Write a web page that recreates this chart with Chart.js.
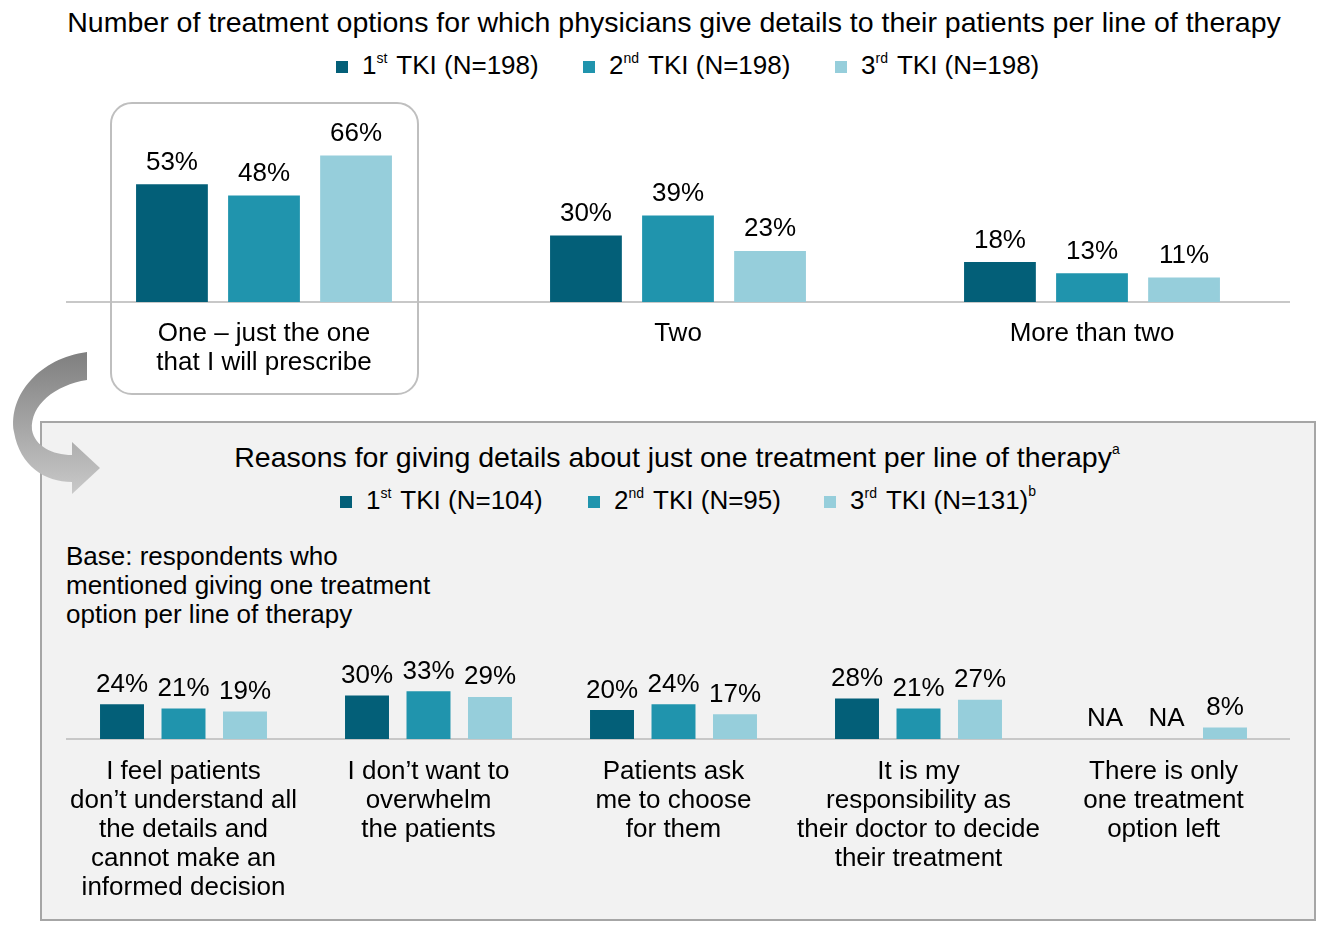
<!DOCTYPE html>
<html>
<head>
<meta charset="utf-8">
<script src="https://cdn.jsdelivr.net/npm/chart.js@4.4.1/dist/chart.umd.min.js"></script>
<style>
  body { margin:0; width:1329px; height:942px; position:relative; background:#fff; overflow:hidden;
         font-family:"Liberation Sans", Arial, sans-serif; color:#000; }
  .abs { position:absolute; }
  .title { text-align:center; font-size:28.5px; line-height:32px; white-space:nowrap; }
  .item { position:absolute; font-size:26px; line-height:30px; white-space:nowrap; }
  .item i { display:inline-block; width:12px; height:12px; margin-right:14px; vertical-align:1px; }
  sup { font-size:14px; vertical-align:11px; line-height:0; margin-right:9px; }
  sup.b { margin-right:0; vertical-align:13px; }
  #panel { left:40px; top:421px; width:1276px; height:500px; box-sizing:border-box;
           background:#f2f2f2; border:2px solid #a6a6a6; }
  #focus { left:110px; top:102px; width:309px; height:293px; box-sizing:border-box;
           border:2.5px solid #bfbfbf; border-radius:22px; }
  .base { left:66px; top:542px; font-size:26px; line-height:29px; }
  canvas { position:absolute; left:0; }
</style>
</head>
<body>
<div id="panel" class="abs"></div>

<div class="abs title" style="top:6px;left:0;width:1348px;">Number of treatment options for which physicians give details to their patients per line of therapy</div>
<span class="item" style="left:336px;top:50px;"><i style="background:#035f78"></i>1<sup>st</sup>TKI (N=198)</span>
<span class="item" style="left:583px;top:50px;"><i style="background:#2094ad"></i>2<sup>nd</sup>TKI (N=198)</span>
<span class="item" style="left:835px;top:50px;"><i style="background:#96cedb"></i>3<sup>rd</sup>TKI (N=198)</span>

<canvas id="topChart" width="1329" height="400" style="top:0;"></canvas>
<div id="focus" class="abs"></div>

<div class="abs title" style="top:441px;left:0;width:1354px;">Reasons for giving details about just one treatment per line of therapy<sup class="b">a</sup></div>
<span class="item" style="left:340px;top:485px;"><i style="background:#035f78"></i>1<sup>st</sup>TKI (N=104)</span>
<span class="item" style="left:588px;top:485px;"><i style="background:#2094ad"></i>2<sup>nd</sup>TKI (N=95)</span>
<span class="item" style="left:824px;top:485px;"><i style="background:#96cedb"></i>3<sup>rd</sup>TKI (N=131)<sup class="b">b</sup></span>
<div class="abs base">Base: respondents who<br>mentioned giving one treatment<br>option per line of therapy</div>

<canvas id="bottomChart" width="1329" height="390" style="top:540px;"></canvas>

<svg class="abs" style="left:0;top:340px;" width="110" height="170" viewBox="0 340 110 170">
  <defs>
    <linearGradient id="arrowGrad" x1="0" y1="0" x2="0" y2="1">
      <stop offset="0" stop-color="#7f7f7f"/>
      <stop offset="1" stop-color="#c9c9c9"/>
    </linearGradient>
  </defs>
  <path fill="url(#arrowGrad)"
        d="M87,352 C40,358 8,395 14,432 C20,466 45,482 72,482 L72,494 L100,468 L72,442 L72,455
           C52,455 35,446 32,430 C30,405 55,385 87,380 Z"/>
</svg>

<script>
// ---------- 上图：治疗方案数量 ----------
const topCategories = [['One – just the one', 'that I will prescribe'], 'Two', 'More than two'];
const top1st = [53, 30, 18];
const top2nd = [48, 39, 13];
const top3rd = [66, 23, 11];

// ---------- 下图：只给一个方案的原因 ----------
const reasonCategories = [
  ['I feel patients', 'don’t understand all', 'the details and', 'cannot make an', 'informed decision'],
  ['I don’t want to', 'overwhelm', 'the patients'],
  ['Patients ask', 'me to choose', 'for them'],
  ['It is my', 'responsibility as', 'their doctor to decide', 'their treatment'],
  ['There is only', 'one treatment', 'option left']
];
const reason1st = [24, 30, 20, 28, null];   // null = NA
const reason2nd = [21, 33, 24, 21, null];
const reason3rd = [19, 29, 17, 27, 8];

const seriesColors = ['#035f78', '#2094ad', '#96cedb'];
const FONT = '"Liberation Sans", Arial, sans-serif';

// ---- 柱顶数值 + 基线 ----
const valueLabels = {
  id: 'valueLabels',
  beforeDatasetsDraw(chart) {
    const ctx = chart.ctx;
    const y0 = chart.scales.y.getPixelForValue(0);
    ctx.save();
    ctx.strokeStyle = '#c8c8c8';
    ctx.lineWidth = 2;
    ctx.beginPath();
    ctx.moveTo(66, y0);
    ctx.lineTo(1290, y0);
    ctx.stroke();
    ctx.restore();
  },
  afterDatasetsDraw(chart, args, opts) {
    const ctx = chart.ctx;
    const y0 = chart.scales.y.getPixelForValue(0);
    ctx.save();
    ctx.font = opts.size + 'px ' + FONT;
    ctx.fillStyle = '#000';
    ctx.textAlign = 'center';
    chart.data.datasets.forEach((ds, di) => {
      chart.getDatasetMeta(di).data.forEach((bar, i) => {
        const v = ds.data[i];
        if (v == null) ctx.fillText('NA', bar.x + 3, y0 - opts.naGap);
        else ctx.fillText(v + '%', bar.x, bar.y - opts.gap);
      });
    });
    ctx.restore();
  }
};

function makeChart(id, labels, series, cfg) {
  return new Chart(document.getElementById(id), {
    type: 'bar',
    data: {
      labels,
      datasets: series.map((d, i) => ({
        data: d,
        backgroundColor: seriesColors[i],
        categoryPercentage: cfg.catPct,
        barPercentage: cfg.barPct
      }))
    },
    options: {
      responsive: false,
      animation: false,
      layout: { padding: { left: cfg.padLeft, right: cfg.padRight, top: cfg.padTop, bottom: 0 } },
      plugins: {
        legend: { display: false },
        tooltip: { enabled: false },
        valueLabels: { size: 26, gap: cfg.gap, naGap: 13.5 }
      },
      scales: {
        x: {
          grid: { display: false, drawTicks: false },
          border: { display: false },
          ticks: { color: '#000', padding: cfg.tickPad, maxRotation: 0, autoSkip: false,
                   font: { family: FONT, size: 26, lineHeight: 29 / 26 } },
          afterFit: axis => { axis.height = cfg.axisH; }
        },
        y: { display: false, min: 0, max: 100 }
      }
    },
    plugins: [valueLabels]
  });
}

makeChart('topChart', topCategories, [top1st, top2nd, top3rd],
  { catPct: 0.667, barPct: 0.78, padLeft: 57, padRight: 30, padTop: 80, axisH: 98, gap: 14.5, tickPad: 17 });

makeChart('bottomChart', reasonCategories, [reason1st, reason2nd, reason3rd],
  { catPct: 0.753, barPct: 0.715, padLeft: 61, padRight: 43, padTop: 54, axisH: 191, gap: 12.5, tickPad: 18 });
</script>
</body>
</html>
